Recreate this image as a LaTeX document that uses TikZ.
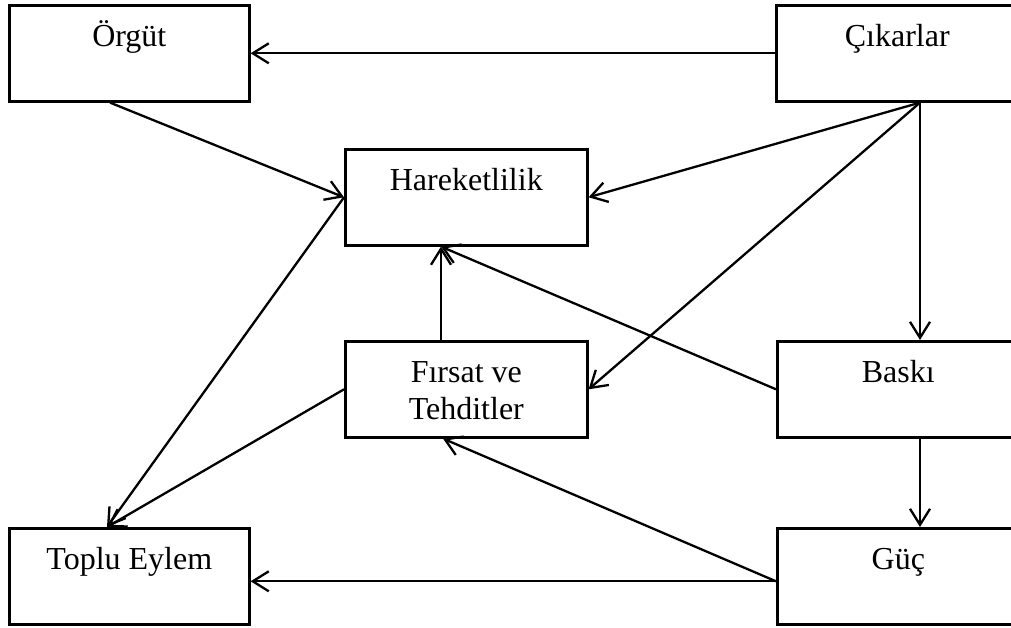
\documentclass[tikz,border=0pt]{standalone}
\usepackage{fontspec}
\setmainfont{Liberation Serif}
\usetikzlibrary{arrows.meta}
\begin{document}
\begin{tikzpicture}[x=1pt,y=-1pt,
  box/.style={draw, line width=2.6pt, rectangle, anchor=north west,
    minimum height=96pt, inner sep=0pt, text height=41pt, text depth=55pt,
    font=\fontsize{32}{37}\selectfont},
  link/.style={line width=2.3pt, -{Straight Barb[length=16pt,width=20pt,line width=2.3pt]}}]
\clip (0,0) rectangle (1011,628);

% boxes
\node[box, minimum width=240pt] (org) at (8,4) {Örgüt};
\node[box, minimum width=242pt] (cik) at (775,4) {Çıkarlar};
\node[box, minimum width=242pt] (har) at (344,148) {Hareketlilik};
\node[box, minimum width=242pt] (fir) at (344,340)
  {\begin{tabular}[t]{@{}c@{}}Fırsat ve\\Tehditler\end{tabular}};
\node[box, minimum width=242pt] (bas) at (776,340) {Baskı};
\node[box, minimum width=240pt] (top) at (8,527) {Toplu Eylem};
\node[box, minimum width=242pt] (guc) at (776,527) {Güç};

% connectors
\draw[link] (cik.west) -- (org.east);
\draw[link] ([xshift=102pt]org.south west) -- (har.west);
\draw[link] ([xshift=145pt]cik.south west) -- (har.east);
\draw[link] ([xshift=145pt]cik.south west) -- (fir.east);
\draw[link] ([xshift=145pt]cik.south west) -- ([xshift=144pt]bas.north west);
\draw[link] (bas.west) -- ([xshift=97pt]har.south west);
\draw[link] ([xshift=97pt]fir.north west) -- ([xshift=97pt]har.south west);
\draw[link] (har.west) -- ([xshift=99pt]top.north west);
\draw[link] (fir.west) -- ([xshift=99pt]top.north west);
\draw[link] ([xshift=144pt]bas.south west) -- ([xshift=144pt]guc.north west);
\draw[link] ([yshift=-5pt]guc.west) -- ([yshift=-5pt]top.east);
\draw[link] ([yshift=-5pt]guc.west) -- ([xshift=99pt]fir.south west);
\end{tikzpicture}
\end{document}
